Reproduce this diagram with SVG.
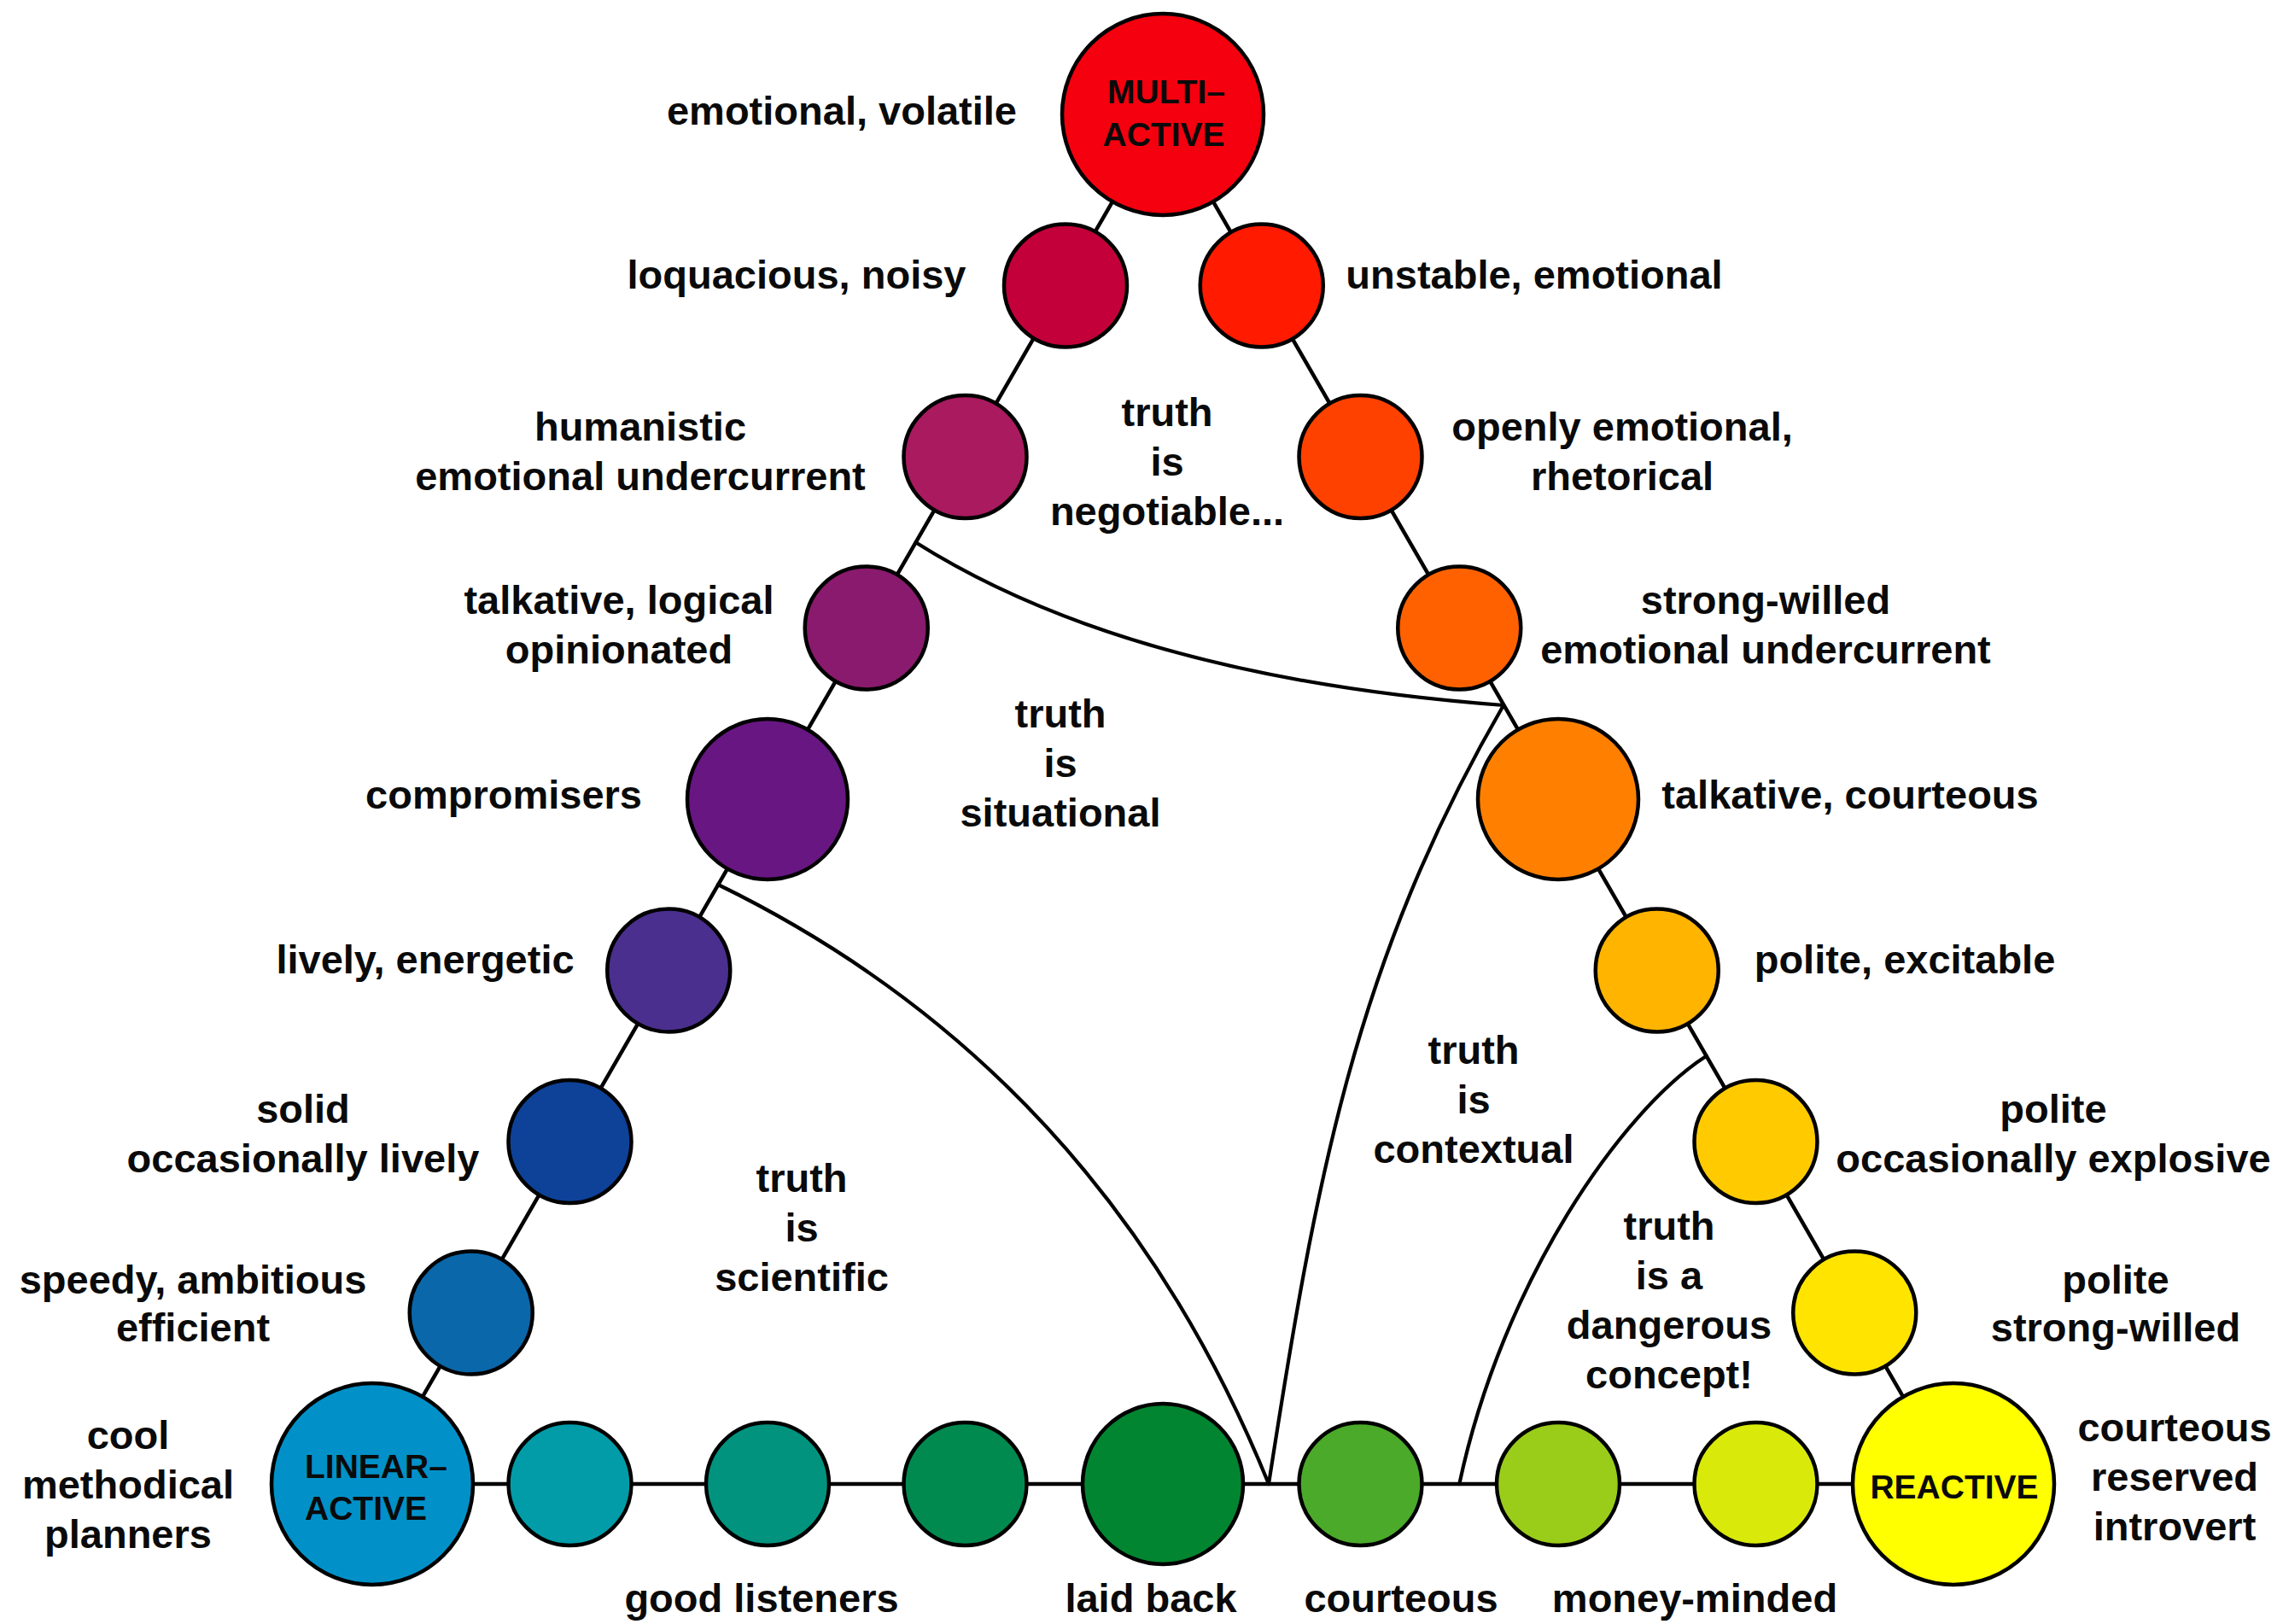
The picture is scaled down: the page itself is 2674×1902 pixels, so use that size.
<svg xmlns="http://www.w3.org/2000/svg" width="2674" height="1902" viewBox="0 0 2674 1902">
<style>
.bg{fill:#ffffff}
.edge{stroke:#000;stroke-width:4.5;fill:none;stroke-linecap:round}
.curve{stroke:#000;stroke-width:4.2;fill:none;stroke-linecap:round}
.n{stroke:#000;stroke-width:4.5}
text{font-family:"Liberation Sans",Arial,Helvetica,sans-serif;font-weight:bold;fill:#0a0a0a}
.lb{font-size:47px;text-anchor:middle}
.in{font-size:39px;text-anchor:middle}
.ins{font-size:39px;text-anchor:start}
</style>
<rect class="bg" x="0" y="0" width="2674" height="1902"/>
<g id="connectors">
<path class="edge" d="M1362,134 L436,1738 L2288,1738 Z"/>
<path class="curve" d="M1072.6,635.3 Q1322,793 1761,826"/>
<path class="curve" d="M841,1036 Q1290,1255 1486,1738"/>
<path class="curve" d="M1761,826 C1586,1128 1541,1384 1486,1738"/>
<path class="curve" d="M1998.6,1236.8 C1900,1300 1760,1500 1709.3,1738"/>
</g>
<g id="node-multi-active">
<circle class="n" cx="1362" cy="134" r="118" fill="#F4000F"/>
<text class="in" x="1366" y="121">MULTI–</text>
<text class="in" x="1363" y="171">ACTIVE</text>
<text class="lb" x="986" y="146">emotional, volatile</text>
</g>
<g id="node-l1">
<circle class="n" cx="1248" cy="334.5" r="72" fill="#C3003A"/>
<text class="lb" x="933" y="338">loquacious, noisy</text>
</g>
<g id="node-l2">
<circle class="n" cx="1130.5" cy="535" r="72" fill="#A91A5F"/>
<text class="lb" x="750" y="516">humanistic</text>
<text class="lb" x="750" y="574">emotional undercurrent</text>
</g>
<g id="node-l3">
<circle class="n" cx="1014.75" cy="735.5" r="72" fill="#8A1A6D"/>
<text class="lb" x="725" y="719">talkative, logical</text>
<text class="lb" x="725" y="777">opinionated</text>
</g>
<g id="node-l4">
<circle class="n" cx="899" cy="936" r="94" fill="#681682"/>
<text class="lb" x="590" y="947">compromisers</text>
</g>
<g id="node-l5">
<circle class="n" cx="783.25" cy="1136.5" r="72" fill="#4A2F8E"/>
<text class="lb" x="498" y="1140">lively, energetic</text>
</g>
<g id="node-l6">
<circle class="n" cx="667.5" cy="1337" r="72" fill="#0D4298"/>
<text class="lb" x="355" y="1315">solid</text>
<text class="lb" x="355" y="1373">occasionally lively</text>
</g>
<g id="node-l7">
<circle class="n" cx="551.75" cy="1537.5" r="72" fill="#0A67AA"/>
<text class="lb" x="226" y="1515">speedy, ambitious</text>
<text class="lb" x="226" y="1571">efficient</text>
</g>
<g id="node-linear-active">
<circle class="n" cx="436" cy="1738" r="118" fill="#0191C8"/>
<text class="ins" x="357" y="1731">LINEAR–</text>
<text class="ins" x="357" y="1780">ACTIVE</text>
<text class="lb" x="150" y="1697">cool</text>
<text class="lb" x="150" y="1755">methodical</text>
<text class="lb" x="150" y="1813">planners</text>
</g>
<g id="node-r1">
<circle class="n" cx="1477.75" cy="334.5" r="72" fill="#FF1A00"/>
<text class="lb" x="1797" y="338">unstable, emotional</text>
</g>
<g id="node-r2">
<circle class="n" cx="1593.5" cy="535" r="72" fill="#FF4100"/>
<text class="lb" x="1900" y="516">openly emotional,</text>
<text class="lb" x="1900" y="574">rhetorical</text>
</g>
<g id="node-r3">
<circle class="n" cx="1709.25" cy="735.5" r="72" fill="#FF6100"/>
<text class="lb" x="2068" y="719">strong-willed</text>
<text class="lb" x="2068" y="777">emotional undercurrent</text>
</g>
<g id="node-r4">
<circle class="n" cx="1825" cy="936" r="94" fill="#FF8000"/>
<text class="lb" x="2167" y="947">talkative, courteous</text>
</g>
<g id="node-r5">
<circle class="n" cx="1940.75" cy="1136.5" r="72" fill="#FFB400"/>
<text class="lb" x="2231" y="1140">polite, excitable</text>
</g>
<g id="node-r6">
<circle class="n" cx="2056.5" cy="1337" r="72" fill="#FFCB00"/>
<text class="lb" x="2405" y="1315">polite</text>
<text class="lb" x="2405" y="1373">occasionally explosive</text>
</g>
<g id="node-r7">
<circle class="n" cx="2172.25" cy="1537.5" r="72" fill="#FFE400"/>
<text class="lb" x="2478" y="1515">polite</text>
<text class="lb" x="2478" y="1571">strong-willed</text>
</g>
<g id="node-reactive">
<circle class="n" cx="2288" cy="1738" r="118" fill="#FFFF00"/>
<text class="in" x="2289" y="1755">REACTIVE</text>
<text class="lb" x="2547" y="1688">courteous</text>
<text class="lb" x="2547" y="1746">reserved</text>
<text class="lb" x="2547" y="1804">introvert</text>
</g>
<g id="node-b1">
<circle class="n" cx="667.5" cy="1738" r="72" fill="#019CA8"/>
</g>
<g id="node-b2">
<circle class="n" cx="899" cy="1738" r="72" fill="#01937E"/>
<text class="lb" x="892" y="1888">good listeners</text>
</g>
<g id="node-b3">
<circle class="n" cx="1130.5" cy="1738" r="72" fill="#018A50"/>
</g>
<g id="node-b4">
<circle class="n" cx="1362" cy="1738" r="94" fill="#028530"/>
<text class="lb" x="1348" y="1888">laid back</text>
</g>
<g id="node-b5">
<circle class="n" cx="1593.5" cy="1738" r="72" fill="#4CAA2A"/>
<text class="lb" x="1641" y="1888">courteous</text>
</g>
<g id="node-b6">
<circle class="n" cx="1825" cy="1738" r="72" fill="#9ACD1A"/>
<text class="lb" x="1985" y="1888">money-minded</text>
</g>
<g id="node-b7">
<circle class="n" cx="2056.5" cy="1738" r="72" fill="#D9EA0B"/>
</g>
<g id="regions">
<text class="lb" x="1367" y="499">truth</text>
<text class="lb" x="1367" y="557">is</text>
<text class="lb" x="1367" y="615">negotiable...</text>
<text class="lb" x="1242" y="852">truth</text>
<text class="lb" x="1242" y="910">is</text>
<text class="lb" x="1242" y="968">situational</text>
<text class="lb" x="939" y="1396">truth</text>
<text class="lb" x="939" y="1454">is</text>
<text class="lb" x="939" y="1512">scientific</text>
<text class="lb" x="1726" y="1246">truth</text>
<text class="lb" x="1726" y="1304">is</text>
<text class="lb" x="1726" y="1362">contextual</text>
<text class="lb" x="1955" y="1452">truth</text>
<text class="lb" x="1955" y="1510">is a</text>
<text class="lb" x="1955" y="1568">dangerous</text>
<text class="lb" x="1955" y="1626">concept!</text>
</g>
</svg>
